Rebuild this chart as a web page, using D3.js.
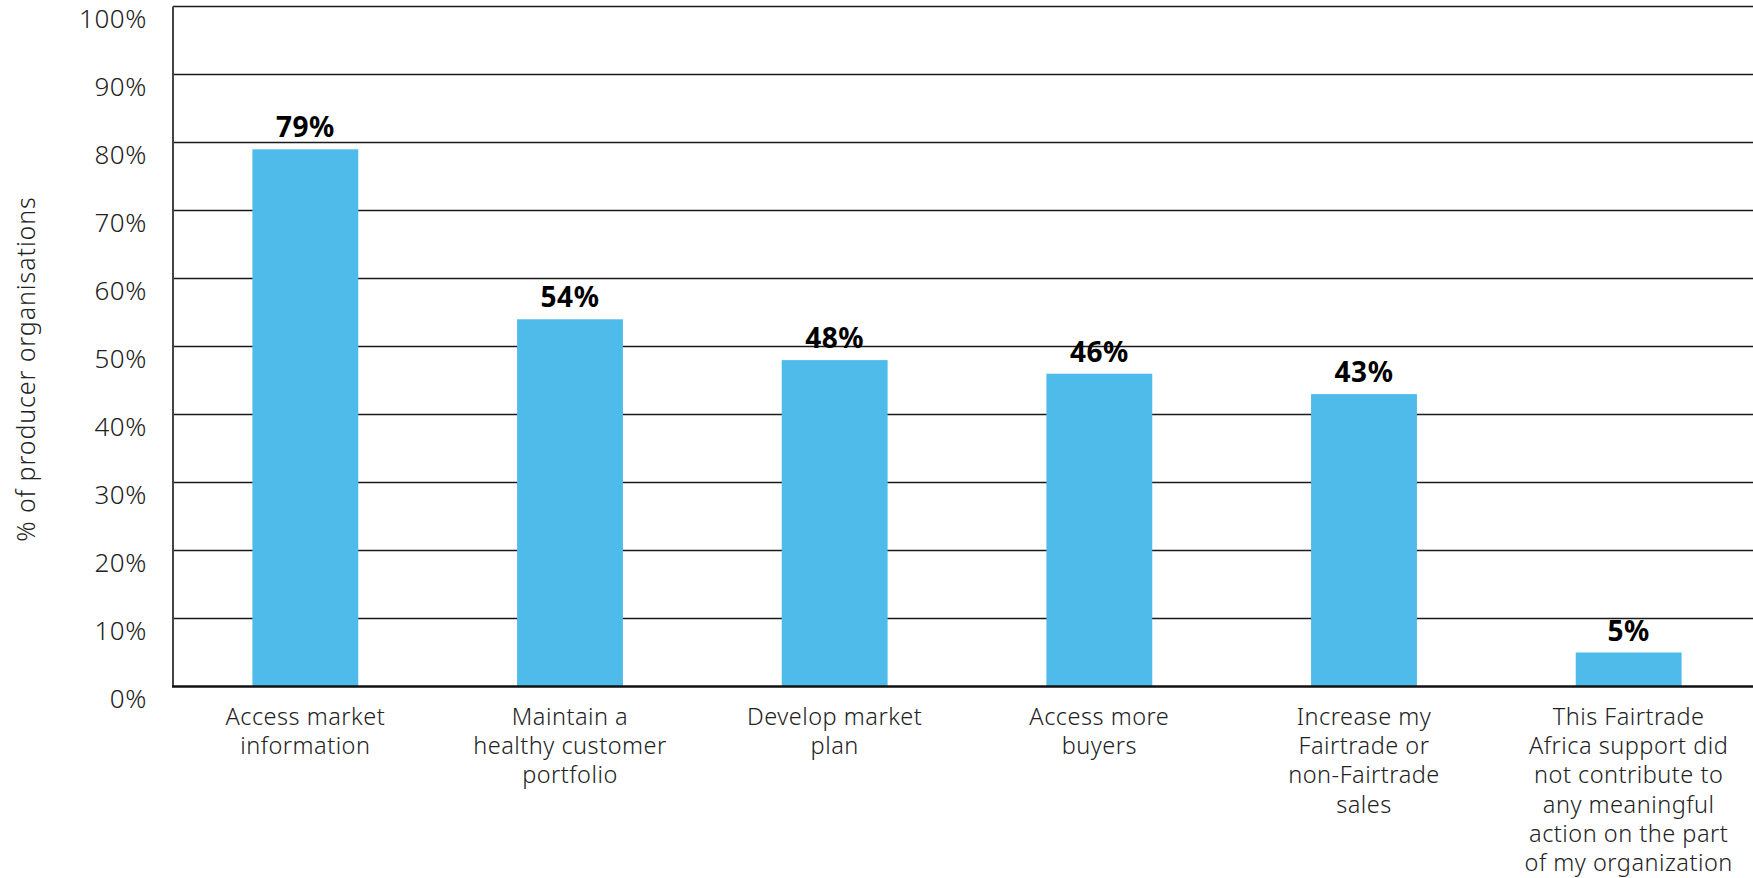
<!DOCTYPE html>
<html>
<head>
<meta charset="utf-8">
<script src="https://cdn.jsdelivr.net/npm/d3@7"></script>
<style>
  html, body { margin: 0; padding: 0; background: #fff; }
  svg { display: block; }
  text { font-family: "Noto Sans", "Open Sans", sans-serif; }
</style>
</head>
<body>
<svg id="chart" width="1753" height="878"></svg>
<script>
// Share of producer organisations per reported outcome
const categories = [
  ["Access market", "information"],
  ["Maintain a", "healthy customer", "portfolio"],
  ["Develop market", "plan"],
  ["Access more", "buyers"],
  ["Increase my", "Fairtrade or", "non-Fairtrade", "sales"],
  ["This Fairtrade", "Africa support did", "not contribute to", "any meaningful", "action on the part", "of my organization"]
];
const values = [79, 54, 48, 46, 43, 5];
const yTicks = [0, 10, 20, 30, 40, 50, 60, 70, 80, 90, 100];
const yTitle = "% of producer organisations";

(function draw() {
  const svg = d3.select("#chart");
  const plotLeft = 173, plotTop = 6.5, plotBottom = 686.5, plotRight = 1761;

  const x = d3.scaleBand()
    .domain(d3.range(categories.length))
    .range([plotLeft, plotRight])
    .paddingInner(0.6)
    .paddingOuter(0.3);

  const y = d3.scaleLinear().domain([0, 100]).range([plotBottom, plotTop]);

  // Gridlines
  svg.append("g")
    .selectAll("line")
    .data(yTicks.filter(d => d > 0))
    .join("line")
    .attr("x1", plotLeft).attr("x2", 1753)
    .attr("y1", d => y(d)).attr("y2", d => y(d))
    .attr("stroke", "#1a1a1a")
    .attr("stroke-width", 1.5);

  // Y tick labels (sit slightly below their gridline)
  svg.append("g")
    .selectAll("text")
    .data(yTicks)
    .join("text")
    .attr("x", 147)
    .attr("y", d => y(d) + 15)
    .attr("text-anchor", "end")
    .attr("dominant-baseline", "middle")
    .attr("font-size", 26)
    .attr("font-weight", 300)
    .attr("letter-spacing", 0.6)
    .attr("fill", "#222")
    .text(d => d + "%");

  // Bars
  svg.append("g")
    .selectAll("rect")
    .data(values)
    .join("rect")
    .attr("x", (d, i) => x(i))
    .attr("width", x.bandwidth())
    .attr("y", d => y(d))
    .attr("height", d => y(0) - y(d))
    .attr("fill", "#4FBBEB");

  // Axis lines
  svg.append("line")
    .attr("x1", plotLeft).attr("x2", plotLeft)
    .attr("y1", plotTop).attr("y2", plotBottom)
    .attr("stroke", "#444").attr("stroke-width", 2);
  svg.append("line")
    .attr("x1", plotLeft - 1).attr("x2", 1753)
    .attr("y1", plotBottom).attr("y2", plotBottom)
    .attr("stroke", "#111").attr("stroke-width", 2.5);

  // Value labels
  svg.append("g")
    .selectAll("text")
    .data(values)
    .join("text")
    .attr("x", (d, i) => x(i) + x.bandwidth() / 2)
    .attr("y", d => y(d) - 12)
    .attr("text-anchor", "middle")
    .attr("font-size", 28)
    .attr("font-weight", "bold")
    .attr("letter-spacing", 0.5)
    .attr("fill", "#000")
    .text(d => d + "%");

  // Category labels
  const catG = svg.append("g");
  categories.forEach((lines, i) => {
    const cx = x(i) + x.bandwidth() / 2;
    const t = catG.append("text")
      .attr("x", cx)
      .attr("y", 725)
      .attr("text-anchor", "middle")
      .attr("font-size", 23.5)
      .attr("font-weight", 300)
      .attr("letter-spacing", 0.5)
      .attr("fill", "#222");
    lines.forEach((ln, j) => {
      t.append("tspan")
        .attr("x", cx)
        .attr("dy", j === 0 ? 0 : 29.2)
        .text(ln);
    });
  });

  // Y axis title
  svg.append("text")
    .attr("transform", "translate(35, 369) rotate(-90)")
    .attr("text-anchor", "middle")
    .attr("font-size", 25)
    .attr("font-weight", 300)
    .attr("letter-spacing", 0.9)
    .attr("fill", "#222")
    .text(yTitle);
})();
</script>
</body>
</html>
